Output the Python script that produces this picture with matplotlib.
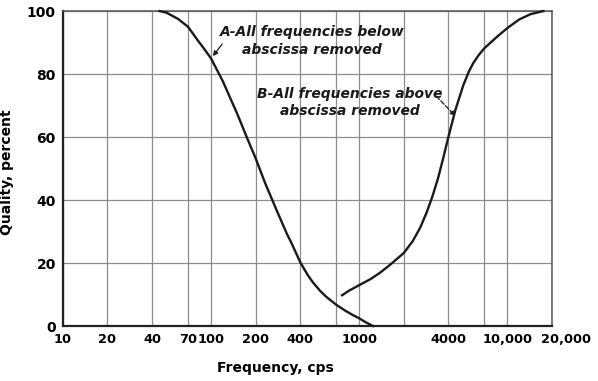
import matplotlib
matplotlib.use("Agg")
import matplotlib.pyplot as plt
from matplotlib.transforms import ScaledTranslation

# Curve A: all frequencies below abscissa removed
freq_a = [45, 50, 60, 70, 82, 90, 100, 120, 150, 175, 200, 232, 279, 326, 350, 400,
          450, 489, 550, 600, 700, 800, 900, 1000, 1100, 1244]
qual_a = [100, 99.5, 97.5, 95, 90.5, 88, 85, 77.8, 67.5, 59.8, 53.3, 45.4, 36.5, 29.2, 26.3, 20.3,
          16.2, 13.8, 11, 9.3, 6.8, 5, 3.6, 2.5, 1.3, 0]

# Curve B: all frequencies above abscissa removed
freq_b = [767, 850, 1000, 1200, 1387, 1600, 2000, 2300, 2584, 2850, 3113, 3400, 3700,
          4000, 4454, 5047, 5500, 5890, 6400, 7000, 8500, 10000, 12000, 14300, 17500]
qual_b = [9.8, 11.2, 13, 15, 17, 19.3, 23.2, 27, 31.3, 36, 41, 46.8, 53.5,
          60, 68.5, 76.5, 80.8, 83.5, 86, 88.2, 91.8, 94.6, 97.3, 99, 100]

# Grid / tick positions
grid_freqs = [10, 20, 40, 70, 100, 200, 400, 700, 1000, 2000, 4000, 7000, 10000, 20000]
grid_labels = ["10", "20", "40", "70", "100", "200", "400", "", "1000", "", "4000", "", "10,000", "20,000"]
y_ticks = [0, 20, 40, 60, 80, 100]

font = {"fontweight": "bold", "fontsize": 10}

fig = plt.figure(figsize=(5.98, 3.81), dpi=100)
ax = fig.add_axes([0.105, 0.144, 0.818, 0.827])

ax.set_xscale("log")
ax.set_xlim(10, 20000)
ax.set_ylim(0, 100)

ax.set_xticks(grid_freqs)
ax.set_xticklabels(grid_labels, fontweight="bold", fontsize=9.3)
ax.xaxis.set_minor_locator(matplotlib.ticker.NullLocator())
ax.set_yticks(y_ticks)
ax.set_yticklabels([str(v) for v in y_ticks], **font)
ax.tick_params(length=0, pad=5)

# shift the last label to the right, like the original
last = ax.get_xticklabels()[-1]
last.set_transform(last.get_transform() + ScaledTranslation(0.14, 0, fig.dpi_scale_trans))

ax.grid(True, color="#8c8c8c", linewidth=0.9)
ax.set_axisbelow(True)

for side in ["left", "bottom"]:
    ax.spines[side].set_linewidth(1.6)
    ax.spines[side].set_color("#222222")
for side in ["top", "right"]:
    ax.spines[side].set_linewidth(1.1)
    ax.spines[side].set_color("#555555")

# Curves
ax.plot(freq_a, qual_a, color="#1a1a1a", linewidth=1.7, clip_on=False, zorder=3)
ax.plot(freq_b, qual_b, color="#1a1a1a", linewidth=1.7, clip_on=False, zorder=3)

# Labels
ax.set_xlabel("Frequency, cps", va="center", **font)
ax.xaxis.set_label_coords(0.434, -0.133)
ax.set_ylabel("Quality, percent", **font)
ax.yaxis.set_label_coords(-0.1, 0.49)

# Annotations
txt = {"fontsize": 10, "fontweight": "bold", "fontstyle": "italic", "ha": "center",
       "va": "center", "color": "#1a1a1a"}
ax.text(481, 90.5, "A-All frequencies below\nabscissa removed", linespacing=1.35, **txt)
ax.text(869, 71, "B-All frequencies above\nabscissa removed", linespacing=1.2, **txt)

ax.annotate("", xy=(103, 85.7), xytext=(119, 89.5),
            arrowprops=dict(arrowstyle="-|>", color="#1a1a1a", lw=0.9,
                            mutation_scale=7, shrinkA=0, shrinkB=0))
ax.annotate("", xy=(4457, 66.7), xytext=(3311, 73),
            arrowprops=dict(arrowstyle="-|>", color="#1a1a1a", lw=0.9, linestyle="--",
                            mutation_scale=7, shrinkA=0, shrinkB=0))

fig.savefig("out.png", dpi=100, facecolor="white")
